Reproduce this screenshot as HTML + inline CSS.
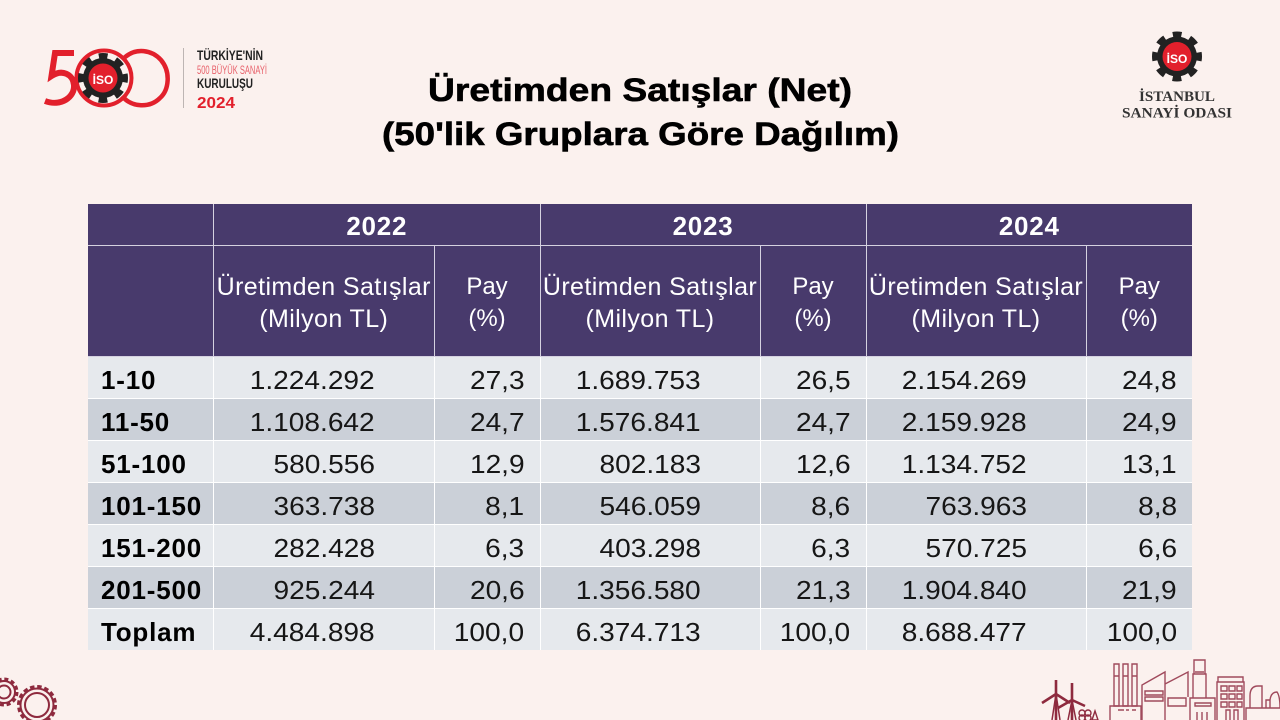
<!DOCTYPE html>
<html lang="tr">
<head>
<meta charset="utf-8">
<title>Üretimden Satışlar (Net)</title>
<style>
html,body{margin:0;padding:0}
body{width:1280px;height:720px;background:#fbf1ee;position:relative;overflow:hidden;font-family:"Liberation Sans",sans-serif}
table{position:absolute;left:88px;top:204px;width:1104px;border-collapse:collapse;table-layout:fixed}
td,th{padding:0;border:1px solid #fff;overflow:hidden;white-space:nowrap;box-sizing:border-box}
tr>*:first-child{border-left:none}
tr>*:last-child{border-right:none}
thead tr:first-child th{border-top:none}
tbody tr:last-child td{border-bottom:none}
thead th{background:#483a6c;color:#fff;border-color:#d5d1e0}
tr.yr th{height:41px;font-size:26px;font-weight:bold;letter-spacing:.75px;text-align:center;padding-top:4px}
tr.sub th{height:111px;font-size:25px;font-weight:normal;line-height:32px;text-align:center;letter-spacing:.4px;padding-top:4px}
tr.sub th.pay{letter-spacing:0;font-size:24px}
tbody td{height:42px;font-size:26px;color:#161616;text-align:right;padding-top:6px;line-height:30px}
tbody td span{display:inline-block;transform:scaleX(1.08);transform-origin:100% 50%}
tbody td.n{padding-right:59px}
tbody td.p{padding-right:15px}
tbody td.g{text-align:left;font-weight:bold;padding-left:13px;letter-spacing:.8px;color:#000;padding-top:5px}
tbody tr:nth-child(odd) td{background:#e6e9ed}
tbody tr:nth-child(even) td{background:#cbd0d8}
svg{position:absolute;overflow:visible}
</style>
</head>
<body>

<svg style="left:0;top:0" width="300" height="130">
  <g fill="none" stroke="#e2202c">
    <path d="M74 53H55L51.500 76C62 69 73 74 74 85C75 97 61 107 45 101" stroke-width="6"/>
    <circle cx="104" cy="78" r="27.500" stroke-width="4"/>
    <path d="M124 58C136 47 152 50 161 60C171 72 169 90 160 98C150 108 132 108 122 96" stroke-width="4.500"/>
  </g>
  <circle cx="103" cy="78" r="22" fill="none" stroke="#222" stroke-width="6" stroke-dasharray="8.640 8.640" stroke-dashoffset="4.320"/>
  <circle cx="103" cy="78" r="20" fill="#222"/>
  <circle cx="103" cy="78" r="14.500" fill="#e2202c"/>
  <text x="103" y="84" text-anchor="middle" font-family="Liberation Sans" font-weight="bold" font-size="12" fill="#fff">İSO</text>
  <rect x="183" y="48" width="1" height="60" fill="#bdb5b3"/>
  <text x="197" y="60" font-family="Liberation Sans" font-weight="bold" font-size="14" fill="#222" textLength="66" lengthAdjust="spacingAndGlyphs">TÜRKİYE'NİN</text>
  <text x="197" y="74" font-family="Liberation Sans" font-size="11.500" fill="#e8606a" textLength="70" lengthAdjust="spacingAndGlyphs">500 BÜYÜK SANAYİ</text>
  <text x="197" y="88" font-family="Liberation Sans" font-weight="bold" font-size="14" fill="#222" textLength="56" lengthAdjust="spacingAndGlyphs">KURULUŞU</text>
  <text x="197" y="108" font-family="Liberation Sans" font-weight="bold" font-size="15.500" fill="#e2202c" textLength="38" lengthAdjust="spacingAndGlyphs">2024</text>
</svg>

<svg style="left:0;top:0" width="1280" height="130">
  <circle cx="1177" cy="56.500" r="22" fill="none" stroke="#222" stroke-width="6" stroke-dasharray="8.640 8.640" stroke-dashoffset="4.320"/>
  <circle cx="1177" cy="56.500" r="20" fill="#222"/>
  <circle cx="1177" cy="56.500" r="14.500" fill="#e2202c"/>
  <text x="1177" y="63" text-anchor="middle" font-family="Liberation Sans" font-weight="bold" font-size="12" fill="#fff">İSO</text>
  <text x="1139" y="101" font-family="Liberation Serif" font-weight="bold" font-size="14.500" fill="#333" textLength="76" lengthAdjust="spacingAndGlyphs">İSTANBUL</text>
  <text x="1122" y="117.500" font-family="Liberation Serif" font-weight="bold" font-size="14.500" fill="#333" textLength="110" lengthAdjust="spacingAndGlyphs">SANAYİ ODASI</text>
</svg>

<svg style="left:0;top:0" width="1280" height="160">
  <text x="428" y="101" font-family="Liberation Sans" font-weight="bold" font-size="32" fill="#000" stroke="#000" stroke-width=".6" textLength="424" lengthAdjust="spacingAndGlyphs">Üretimden Satışlar (Net)</text>
  <text x="382" y="145" font-family="Liberation Sans" font-weight="bold" font-size="32" fill="#000" stroke="#000" stroke-width=".6" textLength="517" lengthAdjust="spacingAndGlyphs">(50'lik Gruplara Göre Dağılım)</text>
</svg>

<table>
<colgroup><col style="width:125.500px"><col style="width:220.500px"><col style="width:106px"><col style="width:220px"><col style="width:106px"><col style="width:220px"><col style="width:106px"></colgroup>
<thead>
<tr class="yr">
<th></th>
<th colspan="2">2022</th>
<th colspan="2">2023</th>
<th colspan="2">2024</th>
</tr>
<tr class="sub">
<th></th>
<th>Üretimden Satışlar<br>(Milyon TL)</th>
<th class="pay">Pay<br>(%)</th>
<th>Üretimden Satışlar<br>(Milyon TL)</th>
<th class="pay">Pay<br>(%)</th>
<th>Üretimden Satışlar<br>(Milyon TL)</th>
<th class="pay">Pay<br>(%)</th>
</tr>
</thead>
<tbody>
<tr><td class="g">1-10</td><td class="n"><span>1.224.292</span></td><td class="p"><span>27,3</span></td><td class="n"><span>1.689.753</span></td><td class="p"><span>26,5</span></td><td class="n"><span>2.154.269</span></td><td class="p"><span>24,8</span></td></tr>
<tr><td class="g">11-50</td><td class="n"><span>1.108.642</span></td><td class="p"><span>24,7</span></td><td class="n"><span>1.576.841</span></td><td class="p"><span>24,7</span></td><td class="n"><span>2.159.928</span></td><td class="p"><span>24,9</span></td></tr>
<tr><td class="g">51-100</td><td class="n"><span>580.556</span></td><td class="p"><span>12,9</span></td><td class="n"><span>802.183</span></td><td class="p"><span>12,6</span></td><td class="n"><span>1.134.752</span></td><td class="p"><span>13,1</span></td></tr>
<tr><td class="g">101-150</td><td class="n"><span>363.738</span></td><td class="p"><span>8,1</span></td><td class="n"><span>546.059</span></td><td class="p"><span>8,6</span></td><td class="n"><span>763.963</span></td><td class="p"><span>8,8</span></td></tr>
<tr><td class="g">151-200</td><td class="n"><span>282.428</span></td><td class="p"><span>6,3</span></td><td class="n"><span>403.298</span></td><td class="p"><span>6,3</span></td><td class="n"><span>570.725</span></td><td class="p"><span>6,6</span></td></tr>
<tr><td class="g">201-500</td><td class="n"><span>925.244</span></td><td class="p"><span>20,6</span></td><td class="n"><span>1.356.580</span></td><td class="p"><span>21,3</span></td><td class="n"><span>1.904.840</span></td><td class="p"><span>21,9</span></td></tr>
<tr><td class="g">Toplam</td><td class="n"><span>4.484.898</span></td><td class="p"><span>100,0</span></td><td class="n"><span>6.374.713</span></td><td class="p"><span>100,0</span></td><td class="n"><span>8.688.477</span></td><td class="p"><span>100,0</span></td></tr>
</tbody>
</table>

<svg style="left:0;top:670px" width="70" height="50">
  <g fill="none" stroke="#8e2a3e" stroke-width="2">
    <circle cx="37" cy="35" r="12"/>
    <circle cx="37" cy="35" r="16.500"/>
    <circle cx="37" cy="35" r="18.500" stroke-width="3" stroke-dasharray="4.500 2.770"/>
    <circle cx="4" cy="22" r="6.500"/>
    <circle cx="4" cy="22" r="11"/>
    <circle cx="4" cy="22" r="13" stroke-width="3" stroke-dasharray="4 2.800"/>
  </g>
</svg>

<svg style="left:1030px;top:650px" width="250" height="70">
  <g fill="none" stroke="#8e2a3e" stroke-width="2.600">
    <path d="M26 30V70M26 44L12 53M26 44L40 53"/>
    <path d="M42 33V70M42 50L28 58M42 50L55 56"/>
    <path d="M22 70L26 44L30 70M38 70L42 50L46 70" stroke-width="1.500"/>
  </g>
  <g fill="none" stroke="#8e2a3e" stroke-width="1.400">
    <circle cx="52" cy="63" r="3"/><circle cx="58" cy="63" r="3"/><circle cx="52" cy="68" r="3"/><circle cx="58" cy="68" r="3"/><path d="M62 70L65 61L68 70Z"/>
  </g>
  <g fill="none" stroke="#a04a5c" stroke-width="1.400">
    <path d="M84 14H89V56H84ZM93 14H98V56H93ZM102 14H107V56H102ZM84 26H89M93 26H98M102 26H107"/>
    <path d="M80 70V56H111V70M88 60H94M96 60H99M102 60H106"/>
    <path d="M112 70V35L135 22V70M135 34L158 22V47"/>
    <path d="M115 41H133V45H115ZM115 47H133V51H115ZM138 48H156V56H138Z"/>
    <path d="M163 48V24H176V48M164 10H175V24H164ZM165 22H174"/>
    <path d="M160 70V48H185V70M165 53H181V56H165ZM167 62V70M172 62V70M177 62V70"/>
    <path d="M187 70V32H214V70M188 27H213V32H188Z"/>
    <path d="M191 36H197V41H191ZM199 36H205V41H199ZM207 36H212V41H207ZM191 44H197V49H191ZM199 44H205V49H199ZM207 44H212V49H207ZM191 52H197V57H191ZM199 52H205V57H199ZM207 52H212V57H207Z"/>
    <path d="M196 70V60H200V70M204 70V60H208V70"/>
    <path d="M216 70V58H250M220 58V46Q220 36 228 36H232V58M236 58V50H240V58M240 50Q241 42 247 42Q250 46 250 58"/>
  </g>
</svg>
</body>
</html>
